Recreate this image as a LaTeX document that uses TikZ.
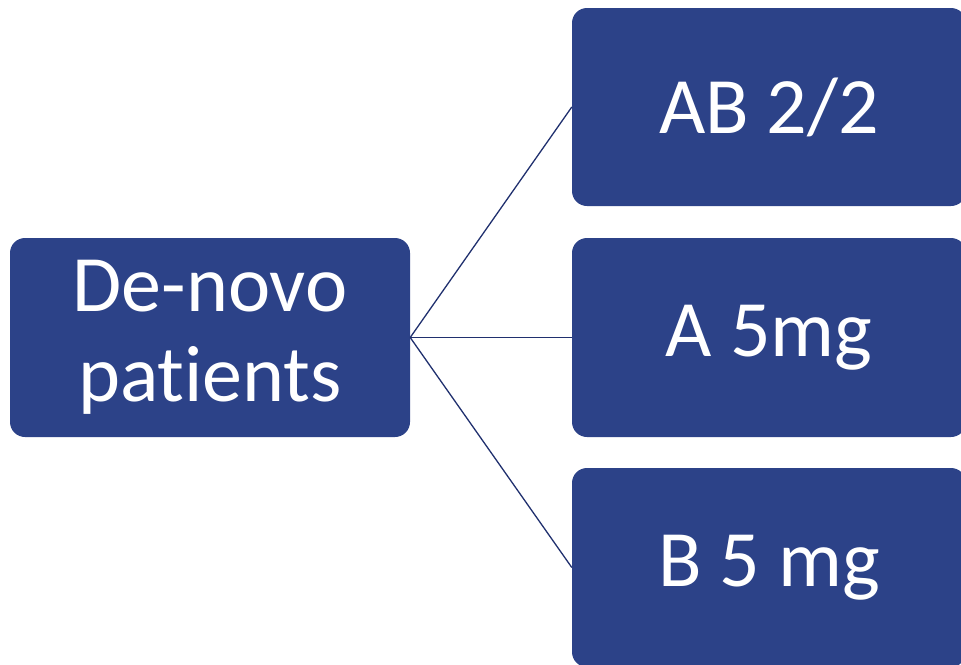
\documentclass[tikz,border=0pt]{standalone}
\usepackage{fontspec}
\setmainfont{Carlito}[Ligatures=NoCommon]
\definecolor{boxblue}{RGB}{44,66,136}
\definecolor{lineblue}{RGB}{32,48,110}
\begin{document}
\begin{tikzpicture}[x=1pt,y=-1pt,
  box/.style={fill=boxblue, draw=none, rounded corners=15pt, text=white,
    align=center, inner sep=0pt, font=\fontsize{80}{90}\selectfont},
  conn/.style={draw=lineblue, line width=1.3pt}]
\useasboundingbox (0,0) rectangle (961,664);
\clip (0,0) rectangle (961,664);
\node[box, minimum width=400pt, minimum height=199pt] (src) at (210,337.5) {De-novo\\patients};
\node[box, minimum width=394pt, minimum height=198pt] (ab) at (769,107) {AB 2/2};
\node[box, minimum width=394pt, minimum height=199pt] (a) at (769,337.5) {A 5mg};
\node[box, minimum width=394pt, minimum height=199pt] (b) at (769,567.5) {B 5 mg};
\draw[conn] (src.east) -- (ab.west);
\draw[conn] (src.east) -- (a.west);
\draw[conn] (src.east) -- (b.west);
\end{tikzpicture}
\end{document}
